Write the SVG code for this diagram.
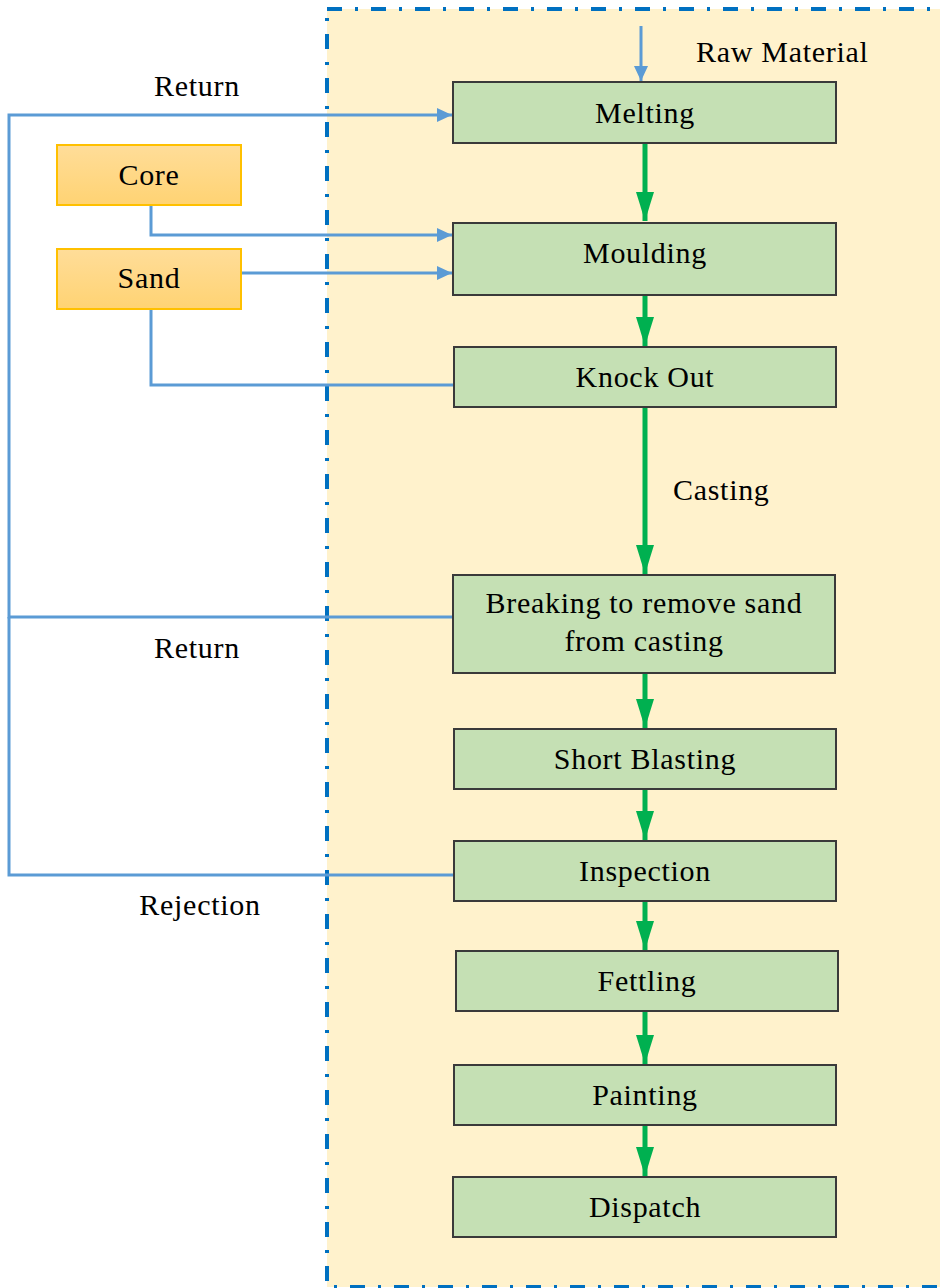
<svg xmlns="http://www.w3.org/2000/svg" width="940" height="1288" viewBox="0 0 940 1288">
<style>
.t{font-size:30px;letter-spacing:0.7px;fill:#000}
.c{text-anchor:middle}
.g{fill:#C5E0B4;stroke:#3A3A3A;stroke-width:2}
.o{fill:url(#og);stroke:#FFC000;stroke-width:2}
.b{fill:none;stroke:#5B9BD5;stroke-width:3}
.gr{fill:none;stroke:#00B050;stroke-width:5}
</style>
<defs>
<linearGradient id="og" x1="0" y1="0" x2="0" y2="1"><stop offset="0" stop-color="#FFDD99"/><stop offset="1" stop-color="#FFD373"/></linearGradient>
<marker id="ab" markerUnits="userSpaceOnUse" viewBox="0 0 15 14" markerWidth="15" markerHeight="14" refX="15" refY="7" orient="auto" overflow="visible"><path d="M0,0 L15,7 L0,14 z" fill="#5B9BD5"/></marker>
<marker id="ag" markerUnits="userSpaceOnUse" viewBox="0 0 29 18" markerWidth="29" markerHeight="18" refX="29" refY="9" orient="auto" overflow="visible"><path d="M0,0 L29,9 L0,18 z" fill="#00B050"/></marker>
</defs>
<rect width="940" height="1288" fill="#fff"/>
<rect id="container" x="327" y="9" width="700" height="1278" fill="#FFF2CC" stroke="#0070C0" stroke-width="4" stroke-dasharray="15 13 3 13"/>
<g id="connectors">
<path class="b" d="M641,26 V81" marker-end="url(#ab)"/>
<path class="b" d="M453,617 H9 V115 H452" marker-end="url(#ab)"/>
<path class="b" d="M453,875 H9 V617"/>
<path class="b" d="M151,205 V235 H452" marker-end="url(#ab)"/>
<path class="b" d="M241,273 H452" marker-end="url(#ab)"/>
<path class="b" d="M151,309 V385 H453"/>
<path class="gr" d="M645,143 V221" marker-end="url(#ag)"/>
<path class="gr" d="M645,295 V346" marker-end="url(#ag)"/>
<path class="gr" d="M645,407 V574" marker-end="url(#ag)"/>
<path class="gr" d="M645,673 V728" marker-end="url(#ag)"/>
<path class="gr" d="M645,789 V840" marker-end="url(#ag)"/>
<path class="gr" d="M645,901 V950" marker-end="url(#ag)"/>
<path class="gr" d="M645,1011 V1064" marker-end="url(#ag)"/>
<path class="gr" d="M645,1125 V1176" marker-end="url(#ag)"/>
</g>
<g font-family="'Liberation Serif', 'Times New Roman', Tinos, 'Noto Serif', FreeSerif, 'DejaVu Serif', serif">
<g id="labels">
<text class="t" x="696" y="62">Raw Material</text>
<text class="t c" x="197" y="96">Return</text>
<text class="t c" x="197" y="658">Return</text>
<text class="t c" x="200" y="915">Rejection</text>
<text class="t" x="673" y="500">Casting</text>
</g>
<g id="core"><rect class="o" x="57" y="145" width="184" height="60"/><text class="t c" x="149" y="185">Core</text></g>
<g id="sand"><rect class="o" x="57" y="249" width="184" height="60"/><text class="t c" x="149" y="288">Sand</text></g>
<g id="melting"><rect class="g" x="453" y="82" width="383" height="61"/><text class="t c" x="645" y="123">Melting</text></g>
<g id="moulding"><rect class="g" x="453" y="223" width="383" height="72"/><text class="t c" x="645" y="263">Moulding</text></g>
<g id="knockout"><rect class="g" x="454" y="347" width="382" height="60"/><text class="t c" x="645" y="387">Knock Out</text></g>
<g id="breaking"><rect class="g" x="453" y="575" width="382" height="98"/><text class="t c" x="644" y="613">Breaking to remove sand</text><text class="t c" x="644" y="651">from casting</text></g>
<g id="shortblasting"><rect class="g" x="454" y="729" width="382" height="60"/><text class="t c" x="645" y="769">Short Blasting</text></g>
<g id="inspection"><rect class="g" x="454" y="841" width="382" height="60"/><text class="t c" x="645" y="881">Inspection</text></g>
<g id="fettling"><rect class="g" x="456" y="951" width="382" height="60"/><text class="t c" x="647" y="991">Fettling</text></g>
<g id="painting"><rect class="g" x="454" y="1065" width="382" height="60"/><text class="t c" x="645" y="1105">Painting</text></g>
<g id="dispatch"><rect class="g" x="453" y="1177" width="383" height="60"/><text class="t c" x="645" y="1217">Dispatch</text></g>
</g>
</svg>
